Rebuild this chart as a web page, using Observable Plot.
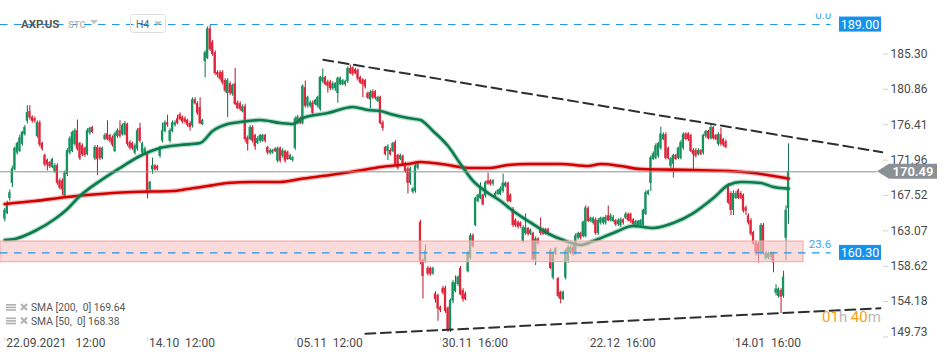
<!DOCTYPE html>
<html><head><meta charset="utf-8">
<script src="https://cdn.jsdelivr.net/npm/d3@7"></script>
<script src="https://cdn.jsdelivr.net/npm/@observablehq/plot@0.6"></script>
<style>
html,body{margin:0;padding:0;background:#fff;}
#chart svg{display:block;font-family:Roboto,"Liberation Sans",sans-serif;}
#chart text{white-space:pre;}
</style></head><body><div id="chart"></div>
<script>
// ---- candles (H4 bars, index = bar number) ----
const opens = [164.6,165.3,167.2,169.1,170.8,172.9,173.1,174.0,175.2,176.9,178.0,177.3,177.1,175.0,176.6,174.0,172.5,171.9,171.6,171.1,170.6,171.2,169.3,169.3,167.5,170.2,172.9,173.1,174.0,175.6,174.0,173.7,173.4,172.7,175.4,176.0,172.2,173.5,173.4,172.2,174.6,175.2,175.0,174.7,173.1,175.0,175.6,175.2,175.2,176.4,174.1,174.0,172.9,173.4,175.9,172.9,172.7,172.7,168.3,170.8,171.2,171.1,172.5,174.4,175.6,176.6,174.4,175.6,176.4,177.1,177.6,177.3,177.1,176.9,176.5,176.3,179.5,179.0,178.5,176.5,184.4,184.8,188.4,186.7,185.4,182.9,182.9,182.9,181.9,180.4,181.5,180.3,181.5,179.1,179.0,178.1,178.6,174.7,174.6,176.0,175.0,174.1,174.4,174.4,175.0,173.5,172.9,172.9,173.3,171.9,
173.4,172.5,173.0,172.9,172.1,172.0,173.5,176.6,177.1,176.6,181.0,178.8,178.8,179.1,179.0,178.8,178.4,181.9,182.3,181.7,181.7,181.0,181.0,180.4,181.5,181.5,181.5,181.9,183.4,183.5,183.3,183.2,182.3,182.0,181.9,180.3,179.6,180.5,180.5,179.4,179.8,176.6,173.5,173.1,173.1,173.1,174.1,172.5,172.1,172.4,171.5,170.8,169.1,168.0,168.1,171.0,164.1,159.3,159.3,158.3,158.3,157.7,155.1,154.9,153.4,155.8,155.8,153.3,150.7,154.3,155.5,156.4,158.3,155.5,155.1,158.0,159.7,162.4,163.8,166.8,167.2,167.5,167.5,169.3,169.3,169.0,167.5,167.7,167.7,168.1,168.7,169.0,167.5,165.7,164.3,164.1,164.0,161.8,162.8,163.3,162.7,162.7,159.5,162.0,163.4,163.2,163.2,163.2,160.5,157.2,
160.2,157.0,155.3,154.5,157.2,159.3,160.3,160.9,160.2,162.2,162.7,162.4,162.4,165.8,164.3,164.1,164.4,162.8,164.1,164.1,164.1,164.9,164.4,164.3,164.3,163.9,163.8,164.4,164.7,165.1,165.1,164.4,163.7,163.8,163.8,163.8,165.2,167.7,169.1,172.1,172.2,172.5,173.5,174.6,175.1,173.4,171.2,171.5,172.5,172.2,172.2,173.5,175.2,175.2,175.0,173.1,173.1,172.7,173.1,172.9,175.0,175.5,174.7,176.0,175.0,174.0,175.1,174.5,174.2,168.7,167.7,165.7,167.2,168.1,167.7,167.5,165.9,164.9,164.3,162.8,161.5,161.4,160.3,163.7,159.6,159.7,159.8,160.2,155.3,154.9,155.5,154.9,162.2,165.9];
const highs = [165.9,166.8,168.2,171.2,173.6,174.2,175.1,175.6,176.3,178.8,178.8,177.5,177.4,176.9,176.9,174.2,172.7,172.1,171.8,172.2,171.5,171.5,169.6,169.6,170.6,173.4,174.9,175.6,175.9,177.0,174.2,174.0,173.6,175.9,176.1,176.2,173.8,173.8,173.6,173.6,175.3,176.9,175.2,175.0,175.5,175.9,176.9,176.5,176.8,176.6,174.4,174.2,174.0,175.9,176.6,174.2,173.6,173.0,169.3,172.2,171.4,171.3,173.7,176.6,176.9,177.6,175.9,176.9,176.9,177.6,177.9,177.5,177.4,177.1,176.8,179.8,179.8,179.3,179.8,177.1,185.7,188.7,188.9,187.0,185.7,183.2,183.2,183.2,182.2,182.2,181.8,181.5,183.5,179.4,179.3,178.9,179.0,175.0,176.3,176.3,175.2,174.9,175.2,175.2,175.2,173.7,173.4,173.3,173.5,173.6,
173.6,173.4,173.2,173.1,172.7,172.4,177.4,177.6,177.4,181.4,181.9,180.0,179.4,179.4,179.6,180.0,182.5,183.4,182.5,182.0,182.0,181.8,181.7,182.4,182.4,182.1,182.0,183.7,183.9,183.7,183.5,183.4,182.5,182.2,182.1,180.5,180.7,180.8,180.7,180.0,180.0,176.9,173.7,173.9,173.4,174.2,174.4,172.7,172.7,172.6,171.7,171.1,171.1,168.5,171.5,171.7,164.4,159.5,161.3,158.6,158.5,158.5,155.4,155.1,153.6,156.1,156.1,153.5,154.5,156.8,157.4,157.4,158.6,155.8,155.4,160.5,162.7,162.7,167.3,167.7,169.1,167.7,169.3,170.3,169.5,169.5,168.0,168.3,168.6,170.2,169.2,169.2,167.7,166.0,164.6,164.3,164.2,163.7,165.2,163.5,163.3,162.9,162.3,162.2,164.7,163.4,163.4,163.4,160.8,160.5,
161.0,157.2,155.5,155.5,160.8,161.2,161.2,161.2,162.7,162.9,162.9,164.3,166.2,166.1,164.8,164.8,164.7,164.6,164.8,164.8,165.0,166.2,165.2,165.0,164.5,164.6,164.7,164.6,165.4,165.3,165.3,164.6,164.4,164.4,164.5,165.8,168.1,168.2,172.5,173.0,174.0,174.2,176.1,175.4,175.4,173.6,172.3,172.7,172.7,173.6,174.4,175.4,175.4,175.4,175.2,173.4,173.4,173.4,173.3,175.2,175.7,175.7,176.5,176.2,175.2,175.4,176.0,174.7,174.5,169.0,168.0,168.1,168.0,168.3,168.0,167.7,166.2,165.2,164.6,163.0,161.8,161.6,164.0,164.0,160.5,160.4,160.4,160.4,156.3,155.9,155.8,158.0,166.2,174.0];
const lows = [164.2,165.1,166.8,168.5,170.6,172.6,172.9,173.7,175.0,176.5,177.0,176.6,176.6,174.7,173.6,173.1,171.1,170.6,170.9,170.9,170.3,168.8,168.2,167.5,167.2,169.9,172.6,172.9,173.7,173.1,171.9,172.4,172.3,172.5,175.1,175.3,171.9,170.0,171.9,172.0,174.4,174.4,174.1,173.6,172.9,174.7,174.7,175.0,175.0,173.7,173.2,173.2,172.6,173.1,174.1,172.6,172.5,167.1,168.0,170.2,170.6,170.6,172.2,174.1,175.4,176.1,174.1,175.4,176.1,176.4,176.9,176.5,176.5,176.1,175.6,176.0,178.9,177.6,176.4,176.3,182.3,184.6,185.6,185.0,182.6,182.3,181.9,181.4,180.4,177.3,180.1,180.0,178.8,178.3,178.1,177.9,174.2,173.1,174.4,174.1,173.2,173.9,174.1,174.2,174.1,172.6,172.6,172.7,172.9,171.6,
171.6,172.2,171.6,171.9,171.9,171.7,173.2,176.4,176.4,176.4,178.5,178.5,178.5,177.6,178.8,178.5,178.1,181.6,181.3,180.4,180.7,180.7,180.6,179.1,181.3,181.3,181.2,181.6,182.7,182.5,182.7,181.9,181.5,179.8,180.9,179.6,178.4,179.6,179.5,179.2,176.4,175.6,172.5,171.9,172.5,172.9,171.2,170.7,171.9,171.2,170.3,167.7,168.8,167.7,167.8,170.7,158.8,154.5,159.0,157.4,157.4,157.5,154.0,151.7,152.8,155.0,152.7,150.3,150.3,153.9,155.3,156.1,154.9,154.1,154.3,157.8,159.4,160.9,163.6,166.6,167.0,166.2,167.2,168.8,168.7,168.7,167.2,167.5,167.5,167.8,168.5,166.6,166.6,163.5,163.5,163.3,163.4,161.5,162.5,162.4,162.5,159.3,158.7,161.3,162.5,162.5,162.5,162.4,158.2,156.9,
160.0,154.6,153.9,154.3,156.9,159.0,160.1,159.9,160.0,161.9,161.9,162.2,162.2,164.1,164.1,163.8,162.5,162.5,163.8,163.8,163.8,164.2,164.2,164.1,163.6,163.6,163.5,163.8,164.5,164.2,164.0,163.6,163.4,163.6,163.6,163.6,165.0,167.5,168.0,171.9,172.0,172.2,173.2,174.4,172.0,172.0,170.9,169.7,171.9,172.0,172.0,173.2,174.4,174.3,172.9,170.6,172.2,172.5,172.5,172.6,174.7,174.5,174.5,174.5,174.4,173.7,173.7,173.6,173.4,166.4,165.0,165.0,167.0,167.0,167.0,165.3,165.0,163.8,162.4,161.3,159.9,159.0,160.0,160.0,159.4,159.4,159.3,157.8,154.9,154.6,152.7,154.6,159.3,163.9];
const closes = [165.6,166.4,167.8,170.8,173.4,174.0,174.7,175.4,176.0,177.9,177.3,176.9,176.9,176.6,173.9,173.4,171.4,171.4,171.2,172.0,171.2,169.1,168.5,168.3,170.3,173.1,174.6,175.4,175.6,173.4,172.2,172.7,172.6,175.6,175.9,175.5,173.5,172.1,172.2,173.4,175.0,174.6,174.4,173.9,175.2,175.6,175.0,176.3,176.5,174.0,173.5,173.5,173.7,175.6,174.4,174.0,173.3,168.1,169.1,171.2,170.8,170.9,173.5,175.6,176.6,176.4,175.6,176.6,176.6,176.6,177.1,176.8,176.8,176.4,176.1,179.5,179.1,177.9,176.6,176.9,185.4,188.4,185.9,185.3,182.9,182.7,182.2,181.7,180.7,181.9,180.4,181.3,179.0,178.5,178.4,178.6,174.6,174.0,176.0,174.4,173.7,174.6,175.0,175.0,174.4,172.9,173.1,173.1,173.1,173.4,
171.9,173.1,171.9,172.1,172.5,172.2,177.1,177.3,176.6,181.2,178.8,179.8,179.1,177.9,179.4,179.8,182.3,182.3,181.5,181.3,181.0,181.5,181.5,182.2,182.2,181.9,181.8,183.4,182.9,182.8,182.9,182.2,181.7,181.5,181.2,179.8,180.4,179.8,179.8,179.8,176.6,176.0,172.7,173.6,172.7,174.0,171.5,171.0,172.5,171.5,170.6,169.1,170.8,168.3,171.2,171.5,159.3,157.4,160.5,157.7,157.7,158.3,154.5,153.3,153.1,155.3,153.0,150.7,154.3,156.5,156.5,157.2,155.1,154.5,154.5,160.2,162.4,161.2,167.1,167.5,168.5,166.4,169.1,169.0,169.0,169.3,167.7,168.1,168.3,169.0,169.0,166.8,166.8,163.8,163.8,163.6,163.7,163.4,163.4,162.7,163.1,159.5,162.0,161.5,162.8,162.7,162.7,162.7,158.4,160.2,
160.8,154.9,154.5,155.3,160.5,160.9,160.9,160.2,162.4,162.7,162.2,164.1,165.9,164.3,164.6,164.6,162.8,164.3,164.6,164.6,164.7,164.4,164.9,164.7,163.9,164.3,164.4,164.1,165.1,164.4,164.3,163.9,164.2,164.2,164.3,165.6,167.8,168.0,172.2,172.7,173.7,174.0,175.2,175.1,172.2,172.2,172.1,172.5,172.1,173.4,174.1,175.1,174.6,174.6,173.1,172.7,172.5,173.1,172.7,175.0,175.5,174.7,176.0,174.7,174.6,175.1,174.0,173.9,173.6,166.6,165.7,167.7,167.7,167.2,167.2,165.6,165.6,164.1,162.7,161.5,160.3,160.3,163.7,160.3,160.2,160.2,160.2,159.1,155.7,155.7,154.8,157.2,165.6,170.49];

// ---- moving averages (bar index, value) ----
const sma200Bar = [0,12,25,38,51,67,73,81,89,99,110,118,130,143,150,161,166,171,177,185,193,201,209,222,233,238,246,254,275,289,299,307,313];
const sma200Val = [166.44,166.82,167.32,167.70,167.95,168.08,168.33,168.71,169.08,169.21,169.21,169.59,170.09,170.72,171.10,171.47,171.72,171.60,171.35,170.97,170.97,171.35,171.47,171.47,171.22,171.47,171.22,170.84,170.72,170.59,170.34,169.96,169.64];
const sma50Bar = [0,4,12,20,25,30,38,46,54,62,70,78,83,89,94,102,110,115,119,129,139,145,150,154,161,166,171,177,182,187,193,198,203,209,214,219,222,230,235,243,251,259,267,275,283,289,294,302,307,313];
const sma50Val = [161.92,162.05,163.05,164.56,165.82,167.45,169.34,170.97,172.48,173.48,173.86,174.11,175.62,176.50,176.75,177.00,176.63,176.50,177.25,177.88,178.64,178.26,178.14,177.76,177.25,177.00,175.62,173.73,171.47,169.34,167.83,166.82,165.57,164.31,163.30,162.42,162.05,161.29,161.80,162.80,163.68,163.43,164.06,165.31,167.20,168.83,169.21,169.08,168.58,168.38];

// ---- axis ticks ----
const tickBars = [0,57,116,174,233,291];
const tickLabels = ["22.09.2021   12:00","14.10  12:00","05.11  12:00","30.11  16:00","22.12  16:00","14.01  16:00"];
const yTicks = [185.30,180.86,176.41,171.96,167.52,163.07,158.62,154.18,149.73];

// ---- drawings ----
const fibLevels = [189.00, 160.30];
const fibNames = ["0.0", "23.6"];
const fibEndBar = [330, 330];
const zoneBounds = [159.13, 161.73];
const zoneEndBar = [319];
const lastPrice = [170.49];
const trendTopBar = [127.2, 350.4], trendTopVal = [184.57, 172.96];
const trendBotBar = [144.0, 349.7], trendBotVal = [150.13, 153.35];
const legendNames = ["SMA [200,  0] 169.64", "SMA [50,  0] 168.38"];
const countdown = [["01", "#f7a11a"], ["h ", "#b8b8b8"], ["40", "#f7a11a"], ["m", "#b8b8b8"]];

// ---- build ----
const bars = opens.map((o, i) => ({i, o, h: highs[i], l: lows[i], c: closes[i]}));
const up = bars.filter(d => d.c >= d.o), down = bars.filter(d => d.c < d.o);
const GREEN = "#14935f", GREEN_D = "#0d7049", RED = "#e3253b", RED_D = "#b8162a";
const step = 2.504, px0 = 4.3, FR = 882;
const xMin = -px0 / step;
const s200 = sma200Bar.map((b, k) => ({b, v: sma200Val[k]}));
const s50 = sma50Bar.map((b, k) => ({b, v: sma50Val[k]}));
const tTop = trendTopBar.map((b, k) => ({b, v: trendTopVal[k]}));
const tBot = trendBotBar.map((b, k) => ({b, v: trendBotVal[k]}));
const fibs = fibLevels.map((v, k) => ({v, name: fibNames[k], end: fibEndBar[k]}));

const chart = Plot.plot({
  width: 950, height: 361,
  marginLeft: 0, marginRight: 68, marginTop: 0, marginBottom: 24,
  style: {fontFamily: "Roboto, sans-serif", fontSize: "12px", background: "#fff", overflow: "visible"},
  x: {domain: [xMin, (FR - px0) / step]},
  y: {domain: [149.667, 192.024]},
  marks: [
    Plot.ruleX(up, {x: "i", y1: "l", y2: "h", stroke: GREEN_D, strokeWidth: 1}),
    Plot.ruleX(down, {x: "i", y1: "l", y2: "h", stroke: RED_D, strokeWidth: 1}),
    Plot.rect(up, {x1: d => d.i - 0.45, x2: d => d.i + 0.45, y1: "o", y2: "c", fill: GREEN, insetTop: -0.5, insetBottom: -0.5}),
    Plot.rect(down, {x1: d => d.i - 0.45, x2: d => d.i + 0.45, y1: "o", y2: "c", fill: RED, insetTop: -0.5, insetBottom: -0.5}),
    Plot.line(s200, {x: "b", y: "v", stroke: "#e04040", strokeWidth: 5, strokeOpacity: 0.35, curve: "monotone-x"}),
    Plot.line(s200, {x: "b", y: "v", stroke: "#d40000", strokeWidth: 2.6, curve: "monotone-x"}),
    Plot.line(s50, {x: "b", y: "v", stroke: "#2a9a6a", strokeWidth: 5, strokeOpacity: 0.35, curve: "monotone-x"}),
    Plot.line(s50, {x: "b", y: "v", stroke: "#0b7a4c", strokeWidth: 2.6, curve: "monotone-x"}),
    Plot.rect(zoneEndBar, {x1: xMin, x2: d => d, y1: zoneBounds[0], y2: zoneBounds[1], fill: "#f9c4c4", fillOpacity: 0.62, stroke: "#f3a3a3", strokeWidth: 1}),
    Plot.ruleY(lastPrice, {y: d => d, x1: xMin, x2: 348.5, stroke: "#8c9195", strokeWidth: 1}),
    Plot.ruleY(fibs, {y: "v", x1: xMin, x2: "end", stroke: "#1f97e8", strokeWidth: 1.1, strokeDasharray: "7.5,6.5"}),
    Plot.text(fibs, {x: "end", y: "v", text: "name", textAnchor: "end", dy: -9, fill: "#3aa8ef", fontSize: 11.5}),
    Plot.line(tTop, {x: "b", y: "v", stroke: "#2a2f34", strokeWidth: 2, strokeDasharray: "10,5.5"}),
    Plot.line(tBot, {x: "b", y: "v", stroke: "#2a2f34", strokeWidth: 2, strokeDasharray: "10,5.5"}),
    Plot.axisX({ticks: tickBars, tickSize: 4, tickFormat: () => "", color: "#d9d9d9", label: null}),
    Plot.axisX({ticks: tickBars, tickSize: 0, tickPadding: 1, tickFormat: d => tickLabels[tickBars.indexOf(d)], textAnchor: "start", dx: 1.5, color: "#4a4a4a", fontSize: 12, label: null}),
    Plot.axisY({anchor: "right", ticks: yTicks, tickSize: 5, tickFormat: () => "", color: "#d0d0d0", label: null}),
    Plot.axisY({anchor: "right", ticks: yTicks, tickSize: 0, tickPadding: 8, tickFormat: d => d.toFixed(2), color: "#4a4a4a", fontSize: 12, label: null})
  ]
});
document.getElementById("chart").appendChild(chart);

// ---- decorations through the plot's own y scale ----
const svg = d3.select(chart);
const ys = v => chart.scale("y").apply(v);
svg.selectAll("text").filter(function(){ return this.textContent === "149.73"; })
  .attr("transform", function(){ return (this.getAttribute("transform") || "") + " translate(0,-5)"; });
const g = svg.append("g").attr("text-anchor", "start");
// hide the top of the "0.0" label (chart area starts a bit lower)
g.append("rect").attr("x", 800).attr("y", 0).attr("width", 40).attr("height", 13.5).attr("fill", "#fff");
function blueBox(v, label) {
  const y = ys(v);
  g.append("rect").attr("x", 839).attr("y", y - 7.5).attr("width", 42).attr("height", 15).attr("fill", "#1591ee");
  g.append("text").attr("x", 860).attr("y", y).attr("dy", "0.36em").attr("text-anchor", "middle")
    .attr("fill", "#fff").attr("font-size", 12.5).text(label);
}
blueBox(fibLevels[0], fibLevels[0].toFixed(2));
blueBox(fibLevels[1], fibLevels[1].toFixed(2));
{
  const y = ys(lastPrice[0]);
  g.append("path").attr("d", `M877,${y} L889,${y - 7.5} L937,${y - 7.5} L937,${y + 7.5} L889,${y + 7.5} Z`).attr("fill", "#8b9094");
  g.append("text").attr("x", 913).attr("y", y).attr("dy", "0.36em").attr("text-anchor", "middle").attr("fill", "#fff")
    .attr("font-size", 13).attr("font-weight", 600).text(lastPrice[0].toFixed(2));
}
// header
g.append("text").attr("x", 21).attr("y", 28).attr("font-size", 11.5).attr("font-weight", 700).attr("fill", "#555").text("AXP.US");
g.append("text").attr("x", 68).attr("y", 27.5).attr("font-size", 9.5).attr("font-weight", 600).attr("fill", "#b8b8b8").text("STC");
g.append("path").attr("d", "M90,20 L98,20 L94,24.5 Z").attr("fill", "#c4c4c4");
g.append("rect").attr("x", 130.5).attr("y", 14.5).attr("width", 35).attr("height", 18).attr("rx", 3).attr("fill", "none").attr("stroke", "#dedede");
g.append("text").attr("x", 136).attr("y", 27.5).attr("font-size", 10.5).attr("fill", "#666").text("H4");
g.append("path").attr("d", "M154,21.5 L162,21.5 L158,25.5 Z").attr("fill", "#bdbdbd");
// legend
legendNames.forEach((name, k) => {
  const yb = 311 + k * 13.5;
  [0, 2.6, 5.2].forEach(o => g.append("rect").attr("x", 6).attr("y", yb - 7 + o).attr("width", 10).attr("height", 1.6).attr("fill", "#b0b0b0"));
  g.append("path").attr("d", `M21,${yb - 7} L27,${yb - 1} M27,${yb - 7} L21,${yb - 1}`).attr("stroke", "#b0b0b0").attr("stroke-width", 2);
  g.append("text").attr("x", 31).attr("y", yb).attr("font-size", 10.3).attr("fill", "#555").text(name);
});
// bar countdown
{
  const t = g.append("text").attr("x", 822).attr("y", 322).attr("font-size", 15);
  countdown.forEach(([s, c]) => t.append("tspan").attr("fill", c).text(s));
}
</script></body></html>
